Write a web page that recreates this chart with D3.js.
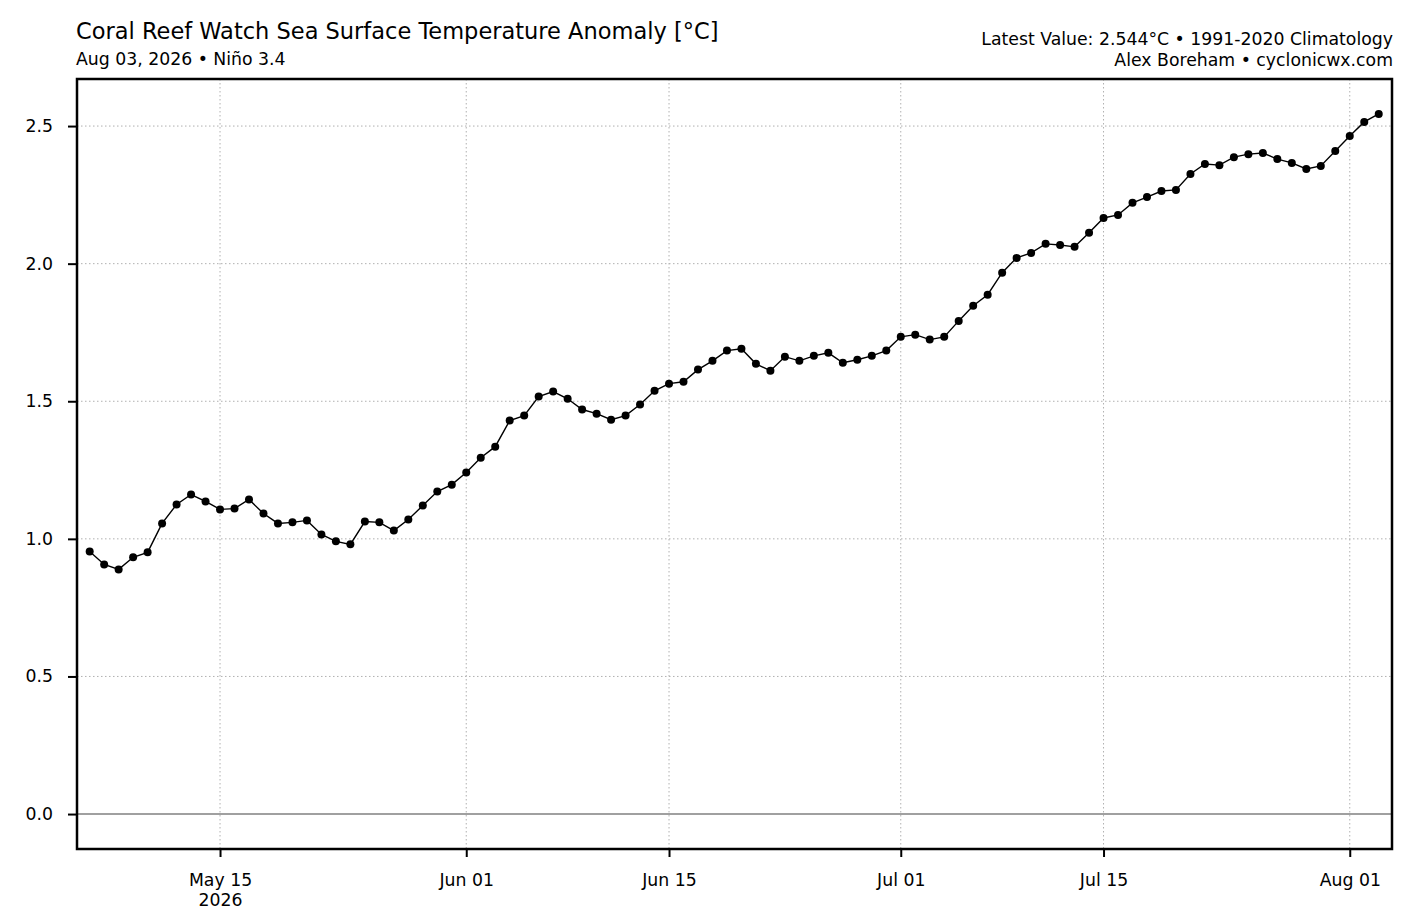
<!DOCTYPE html>
<html>
<head>
<meta charset="utf-8">
<script src="https://cdn.jsdelivr.net/npm/d3@7"></script>
<style>
  body { margin: 0; background: #fff; }
  text { font-family: "DejaVu Sans", sans-serif; fill: #000; }
</style>
</head>
<body>
<div id="chart"></div>
<script>
// daily anomaly values, May 06 -> Aug 03 2026
var startDate = '2026-05-06';
var anomaly = [
  0.954, 0.907, 0.889, 0.933, 0.951, 1.056, 1.125, 1.161, 1.136, 1.107,
  1.110, 1.143, 1.092, 1.056, 1.060, 1.067, 1.016, 0.991, 0.980, 1.063,
  1.060, 1.030, 1.070, 1.121, 1.172, 1.197,
  1.241, 1.295, 1.335, 1.430, 1.448, 1.517, 1.535, 1.509, 1.470, 1.455,
  1.433, 1.448, 1.488, 1.538, 1.564, 1.571, 1.615, 1.647, 1.684, 1.691,
  1.636, 1.611, 1.662, 1.647, 1.665, 1.676, 1.640, 1.651, 1.665, 1.684,
  1.734, 1.742, 1.724, 1.734, 1.792, 1.847, 1.887, 1.967, 2.021, 2.039,
  2.072, 2.068, 2.061, 2.112, 2.166, 2.177, 2.221, 2.242, 2.264, 2.268,
  2.326, 2.362, 2.358, 2.387, 2.398, 2.402, 2.380, 2.366, 2.344, 2.355,
  2.409,
  2.464, 2.515, 2.544
];
var xTickDates = ['2026-05-15', '2026-06-01', '2026-06-15', '2026-07-01', '2026-07-15', '2026-08-01'];
var yTicks = [0, 0.5, 1.0, 1.5, 2.0, 2.5];

var width = 1417, height = 916;
var margin = { top: 79, right: 25, bottom: 67, left: 77 };
var labelSize = '17.3px';

var parse = d3.utcParse('%Y-%m-%d');
var day0 = parse(startDate);
var data = anomaly.map(function(v, i) {
  return { date: d3.utcDay.offset(day0, i), value: v };
});

var svg = d3.select('#chart').append('svg')
  .attr('width', width)
  .attr('height', height);

var x = d3.scaleUtc()
  .domain([new Date(Date.UTC(2026, 4, 5, 3)), new Date(Date.UTC(2026, 7, 3, 22))])
  .range([margin.left, width - margin.right]);

var y = d3.scaleLinear()
  .domain([-0.127, 2.671])
  .range([height - margin.bottom, margin.top]);

var plotG = svg.append('g');

// grid
plotG.selectAll('.vgrid')
  .data(xTickDates.map(function(d) { return parse(d); }))
  .enter().append('line')
  .attr('x1', function(d) { return x(d); })
  .attr('x2', function(d) { return x(d); })
  .attr('y1', margin.top)
  .attr('y2', height - margin.bottom)
  .attr('stroke', '#b0b0b0')
  .attr('stroke-width', 1)
  .attr('stroke-dasharray', '1.5,2.5');

plotG.selectAll('.hgrid')
  .data(yTicks.filter(function(d) { return d !== 0; }))
  .enter().append('line')
  .attr('x1', margin.left)
  .attr('x2', width - margin.right)
  .attr('y1', function(d) { return y(d); })
  .attr('y2', function(d) { return y(d); })
  .attr('stroke', '#b0b0b0')
  .attr('stroke-width', 1)
  .attr('stroke-dasharray', '1.5,2.5');

// zero line
plotG.append('line')
  .attr('x1', margin.left)
  .attr('x2', width - margin.right)
  .attr('y1', y(0))
  .attr('y2', y(0))
  .attr('stroke', '#808080')
  .attr('stroke-width', 1.6);

// series
var line = d3.line()
  .x(function(d) { return x(d.date); })
  .y(function(d) { return y(d.value); });

plotG.append('path')
  .datum(data)
  .attr('fill', 'none')
  .attr('stroke', '#000')
  .attr('stroke-width', 1.4)
  .attr('d', line);

plotG.selectAll('.pt')
  .data(data)
  .enter().append('circle')
  .attr('cx', function(d) { return x(d.date); })
  .attr('cy', function(d) { return y(d.value); })
  .attr('r', 4)
  .attr('fill', '#000');

// axes
var xAxis = svg.append('g')
  .attr('transform', 'translate(0,' + (height - margin.bottom) + ')')
  .call(d3.axisBottom(x)
    .tickValues(xTickDates.map(function(d) { return parse(d); }))
    .tickSize(8)
    .tickPadding(17)
    .tickFormat(d3.utcFormat('%b %d')));

xAxis.select('.domain').remove();
xAxis.selectAll('.tick line').attr('stroke', '#000').attr('stroke-width', 2);
xAxis.selectAll('.tick text')
  .style('font-family', '"DejaVu Sans", sans-serif')
  .style('font-size', labelSize);

// year under first tick
xAxis.selectAll('.tick').filter(function(d, i) { return i === 0; })
  .append('text')
  .attr('y', 45)
  .attr('dy', '0.71em')
  .attr('text-anchor', 'middle')
  .style('font-size', labelSize)
  .text('2026');

var yAxis = svg.append('g')
  .attr('transform', 'translate(' + margin.left + ',0)')
  .call(d3.axisLeft(y)
    .tickValues(yTicks)
    .tickSize(9)
    .tickPadding(15)
    .tickFormat(d3.format('.1f')));

yAxis.select('.domain').remove();
yAxis.selectAll('.tick line').attr('stroke', '#000').attr('stroke-width', 2);
yAxis.selectAll('.tick text')
  .style('font-family', '"DejaVu Sans", sans-serif')
  .style('font-size', labelSize);

// frame
svg.append('rect')
  .attr('x', margin.left)
  .attr('y', margin.top)
  .attr('width', width - margin.left - margin.right)
  .attr('height', height - margin.top - margin.bottom)
  .attr('fill', 'none')
  .attr('stroke', '#000')
  .attr('stroke-width', 2.5);

// titles
svg.append('text')
  .attr('x', 76)
  .attr('y', 39)
  .style('font-size', '22.5px')
  .text('Coral Reef Watch Sea Surface Temperature Anomaly [°C]');

svg.append('text')
  .attr('x', 76)
  .attr('y', 65)
  .style('font-size', labelSize)
  .text('Aug 03, 2026 • Niño 3.4');

svg.append('text')
  .attr('x', 1393)
  .attr('y', 45)
  .attr('text-anchor', 'end')
  .style('font-size', labelSize)
  .text('Latest Value: 2.544°C • 1991-2020 Climatology');

svg.append('text')
  .attr('x', 1393)
  .attr('y', 66)
  .attr('text-anchor', 'end')
  .style('font-size', labelSize)
  .text('Alex Boreham • cyclonicwx.com');
</script>
</body>
</html>
